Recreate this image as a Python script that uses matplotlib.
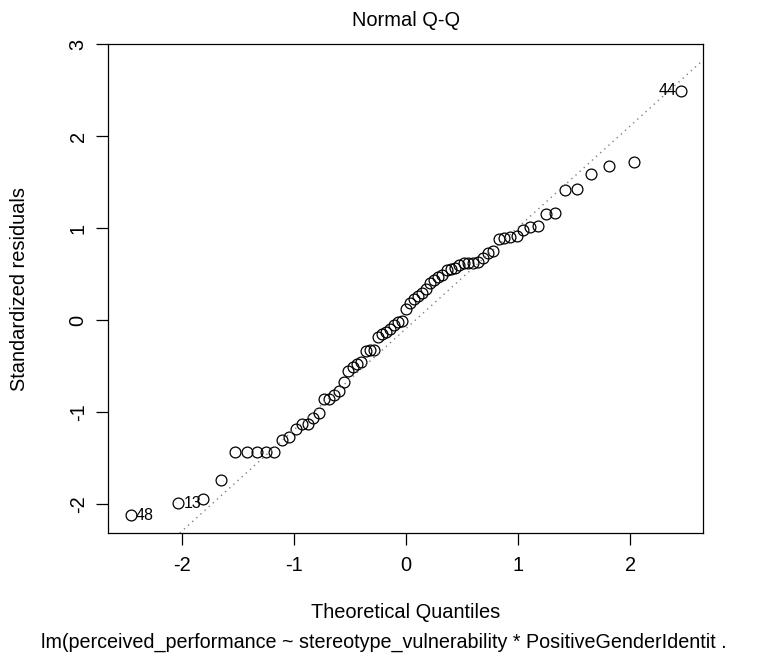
import numpy as np
import matplotlib
matplotlib.use("Agg")
import matplotlib.pyplot as plt

plt.rcParams['font.family'] = ['Liberation Sans', 'DejaVu Sans']

# theoretical quantiles (71 residuals)
theo_neg = [-2.455, -2.031, -1.809, -1.652, -1.527, -1.422, -1.331, -1.250,
            -1.177, -1.109, -1.046, -0.986, -0.931, -0.877, -0.827, -0.778,
            -0.731, -0.686, -0.642, -0.599, -0.557, -0.516, -0.476, -0.437,
            -0.399, -0.361, -0.323, -0.286, -0.250, -0.213, -0.177, -0.142,
            -0.106, -0.071, -0.035]
theo = theo_neg + [0.0] + [-v for v in reversed(theo_neg)]

# standardized residuals, sorted
std_resid = [-2.12, -1.99, -1.95, -1.74, -1.44, -1.44, -1.44, -1.44, -1.43,
             -1.30, -1.27, -1.19, -1.13, -1.13, -1.07, -1.01, -0.86, -0.86,
             -0.81, -0.77, -0.67, -0.55, -0.51, -0.48, -0.46, -0.34, -0.33,
             -0.33, -0.19, -0.15, -0.13, -0.10, -0.05, -0.02, -0.01, 0.12,
             0.18, 0.23, 0.26, 0.29, 0.34, 0.40, 0.43, 0.47, 0.49, 0.54,
             0.55, 0.57, 0.60, 0.62, 0.62, 0.62, 0.63, 0.67, 0.73, 0.75,
             0.88, 0.89, 0.90, 0.91, 0.98, 1.01, 1.02, 1.15, 1.16, 1.41,
             1.42, 1.59, 1.67, 1.72, 2.49]

# labelled observations: (index into sorted arrays, label, side)
id_points = [(0, "48", "right"), (1, "13", "right"), (70, "44", "left")]

x_ticks = [-2, -1, 0, 1, 2]
y_ticks = [-2, -1, 0, 1, 2, 3]

W, H = 757, 660
fig = plt.figure(figsize=(W / 100, H / 100), dpi=100)
ax = fig.add_axes([108 / W, 1 - 533 / H, (703 - 108) / W, (533 - 44) / H])

ax.plot(theo, std_resid, linestyle="none", marker="o", markersize=7.8,
        markerfacecolor="none", markeredgecolor="black", markeredgewidth=0.9)

# reference line through the quartiles, as qqline does
q1, q3 = np.quantile(std_resid, [0.25, 0.75])
z75 = 0.6745
slope = (q3 - q1) / (2 * z75)
intercept = q1 + slope * z75
ax.axline((0, intercept), slope=slope, color="#808080", linestyle=(0, (1, 3)),
          linewidth=1.0)

for i, lab, side in id_points:
    dx = 3.5 if side == "right" else -3.5
    ax.annotate(lab, (theo[i], std_resid[i]), xytext=(dx, 0),
                textcoords="offset points", va="center",
                ha="left" if side == "right" else "right", fontsize=11.5)

ax.set_xlim(-2.66, 2.65)
ax.set_ylim(-2.315, 3.0)
ax.set_xticks(x_ticks)
ax.set_yticks(y_ticks)
ax.set_xticklabels([str(t) for t in x_ticks])
ax.set_yticklabels([str(t) for t in y_ticks], rotation=90, va="center")
ax.tick_params(direction="out", length=8.6, width=0.9, labelsize=14.4)
ax.tick_params(axis="x", pad=8)
ax.tick_params(axis="y", pad=6)
for s in ax.spines.values():
    s.set_linewidth(0.9)

fig.text(406 / W, 1 - 26 / H, "Normal Q-Q", ha="center", va="baseline",
         fontsize=14.4)
fig.text(406 / W, 1 - 618 / H, "Theoretical Quantiles", ha="center",
         va="baseline", fontsize=14.4)
fig.text(384 / W, 1 - 648 / H,
         "lm(perceived_performance ~ stereotype_vulnerability * PositiveGenderIdentit .",
         ha="center", va="baseline", fontsize=14.2)
fig.text(20 / W, 1 - 289 / H, "Standardized residuals", ha="center",
         va="center", rotation=90, fontsize=14.4)

fig.savefig("out.png", dpi=100)
